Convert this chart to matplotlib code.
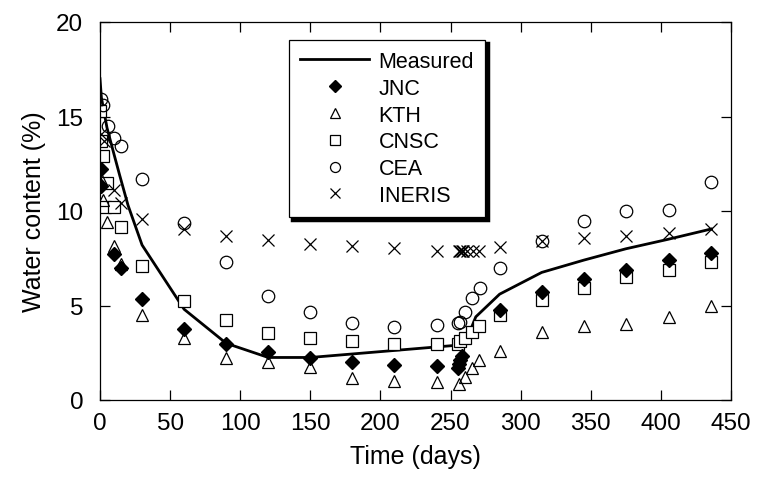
import numpy as np
import matplotlib.pyplot as plt

plt.rcParams['font.family'] = ['Liberation Sans', 'DejaVu Sans']

# Medido
meas_t = [0, 1, 5, 10, 14, 20, 30, 60, 90, 120, 150, 255, 262, 268, 285, 315, 345, 375, 405, 436]
meas_w = [17.0, 16.0, 14.4, 13.0, 11.9, 10.3, 8.2, 4.8, 3.0, 2.25, 2.25, 2.9, 3.3, 4.4, 5.6, 6.75, 7.4, 8.0, 8.5, 9.05]

# JNC
jnc_t = [1, 1, 10, 15, 30, 60, 90, 120, 150, 180, 210, 240, 255, 256, 257, 258, 285, 315, 345, 375, 406, 436]
jnc_w = [12.2, 11.3, 7.75, 7.0, 5.35, 3.75, 2.96, 2.53, 2.2, 2.0, 1.85, 1.8, 1.7, 1.9, 2.1, 2.35, 4.75, 5.7, 6.4, 6.9, 7.4, 7.8]

# KTH
kth_t = [1, 2, 5, 10, 15, 30, 60, 90, 120, 150, 180, 210, 240, 256, 260, 265, 270, 285, 315, 345, 375, 406, 436]
kth_w = [11.7, 10.6, 9.4, 8.15, 7.2, 4.5, 3.3, 2.2, 2.0, 1.75, 1.15, 1.0, 0.95, 0.85, 1.2, 1.7, 2.1, 2.6, 3.6, 3.9, 4.0, 4.4, 5.0]

# CNSC
cnsc_t = [0, 1, 2, 3.5, 5, 10, 15, 30, 60, 90, 120, 150, 180, 210, 240, 255, 257, 260, 265, 270, 285, 315, 345, 375, 406, 436]
cnsc_w = [15.3, 13.7, 12.9, 10.2, 11.5, 10.2, 9.15, 7.1, 5.25, 4.25, 3.55, 3.3, 3.1, 2.95, 2.95, 2.95, 3.1, 3.3, 3.6, 3.9, 4.5, 5.3, 5.9, 6.5, 6.9, 7.3]

# CEA
cea_t = [0.7, 2, 5.5, 10, 15, 30, 60, 90, 120, 150, 180, 210, 240, 255, 257, 260, 265, 271, 285, 315, 345, 375, 406, 436]
cea_w = [15.9, 15.6, 14.5, 13.85, 13.45, 11.7, 9.35, 7.3, 5.5, 4.65, 4.1, 3.85, 3.95, 4.1, 4.15, 4.65, 5.4, 5.9, 7.0, 8.4, 9.45, 10.0, 10.05, 11.55]

# INERIS
ineris_t = [1, 3, 10, 15, 30, 60, 90, 120, 150, 180, 210, 240, 256, 257, 258, 259, 262, 266, 270, 285, 315, 345, 375, 406, 436]
ineris_w = [14.1, 13.7, 11.1, 10.4, 9.6, 9.05, 8.7, 8.45, 8.25, 8.15, 8.05, 7.9, 7.9, 7.9, 7.9, 7.9, 7.9, 7.9, 7.9, 8.1, 8.4, 8.55, 8.7, 8.85, 9.05]

fig = plt.figure(figsize=(7.59, 4.81), dpi=100)
ax = fig.add_axes([100 / 759, 80 / 481, 631 / 759, 378 / 481])

ax.plot(meas_t, meas_w, color='k', lw=2, label='Measured', zorder=1)
ax.plot(jnc_t, jnc_w, ls='none', marker='D', ms=7.2, mfc='k', mec='k', label='JNC', zorder=3)
ax.plot(kth_t, kth_w, ls='none', marker='^', ms=9, mfc='none', mec='k', mew=0.9, label='KTH', zorder=3)
ax.plot(cnsc_t, cnsc_w, ls='none', marker='s', ms=8.5, mfc='white', mec='k', mew=0.9, label='CNSC', zorder=2)
ax.plot(cea_t, cea_w, ls='none', marker='o', ms=9, mfc='none', mec='k', mew=0.9, label='CEA', zorder=3)
ax.plot(ineris_t, ineris_w, ls='none', marker='x', ms=9, mec='k', mew=0.9, label='INERIS', zorder=3)

ax.set_xlim(0, 450)
ax.set_ylim(0, 20)
ax.set_xticks(np.arange(0, 451, 50))
ax.set_yticks(np.arange(0, 21, 5))
ax.tick_params(direction='in', top=True, right=True, length=7, width=0.9, labelsize=17.5)
ax.tick_params(axis='x', pad=9)
ax.tick_params(axis='y', pad=12)
for s in ax.spines.values():
    s.set_linewidth(0.9)

ax.set_xlabel('Time (days)', fontsize=18, labelpad=7)
ax.set_ylabel('Water content (%)', fontsize=18, labelpad=7)

leg = ax.legend(loc='upper left', bbox_to_anchor=(0.300, 0.952), fontsize=15.5, handlelength=3.2,
                handletextpad=0.45, labelspacing=0.27, borderpad=0.5, borderaxespad=0,
                markerscale=0.8, fancybox=False,
                shadow={'color': 'k', 'alpha': 1, 'linewidth': 2.5}, framealpha=1)
leg.get_frame().set_edgecolor('k')
leg.get_frame().set_linewidth(0.9)

fig.savefig('out.png', dpi=100)
